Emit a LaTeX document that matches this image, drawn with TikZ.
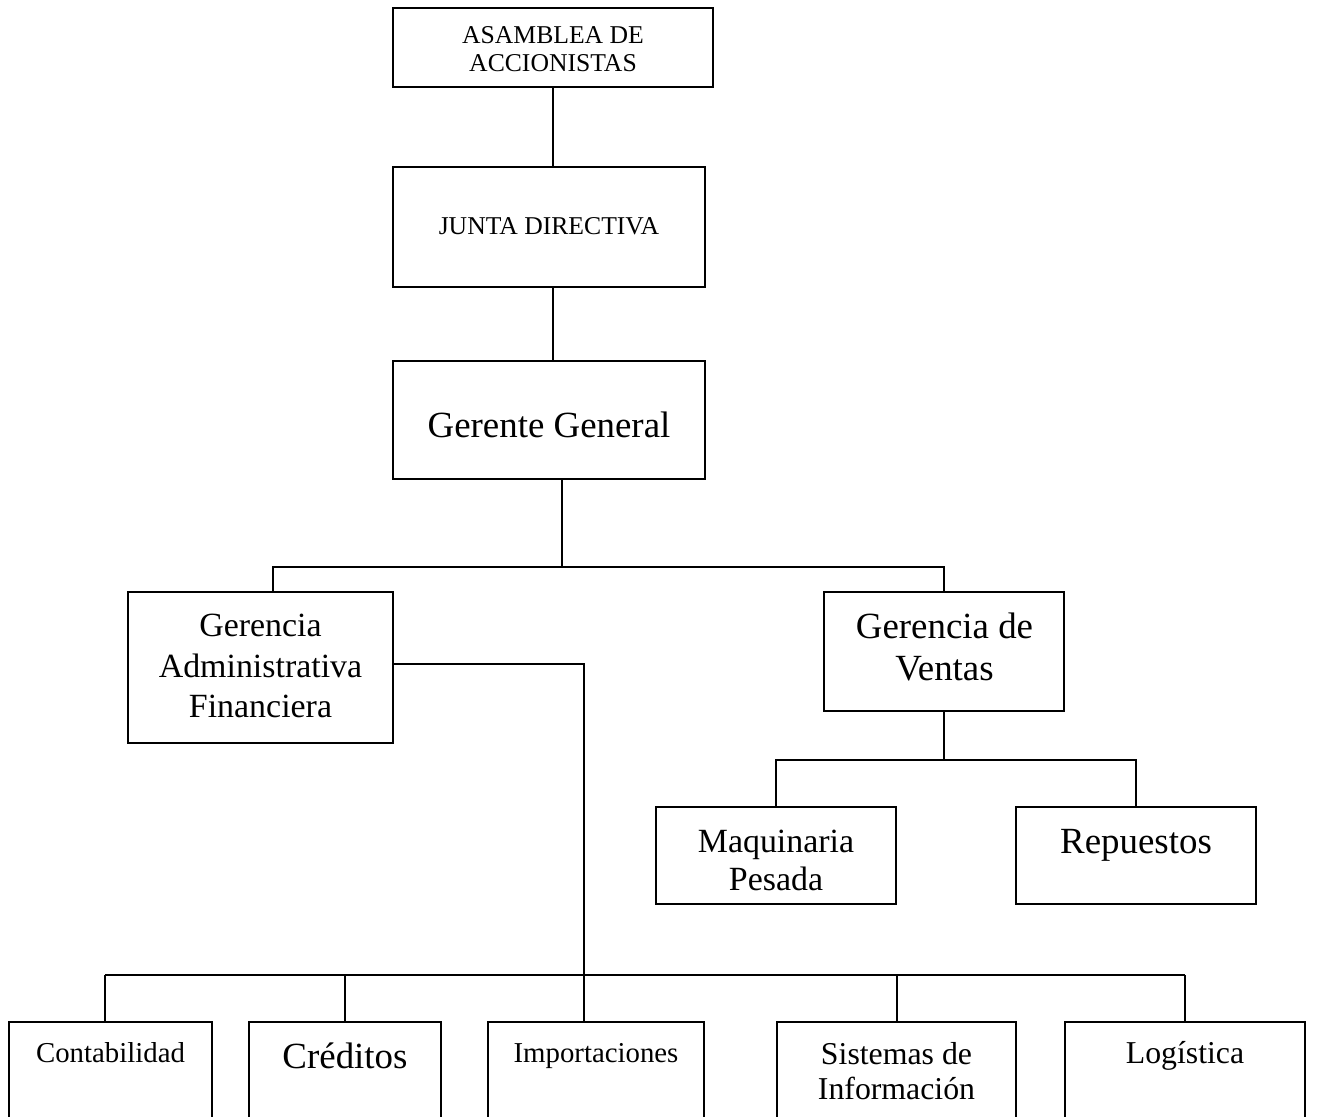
\documentclass[tikz,border=0pt]{standalone}
\usepackage{fontspec}
\setmainfont{Liberation Serif}
\usetikzlibrary{fit}
\tikzset{
  boxst/.style={draw=black, line width=1.1pt, inner sep=0pt},
  conn/.style={draw=black, line width=1.1pt},
  lbl/.style={inner sep=0pt, align=center},
  fA/.style={font=\fontsize{14.6}{15.6}\selectfont},
  fB/.style={font=\fontsize{16.4}{18}\selectfont},
  fC/.style={font=\fontsize{18.1}{19.9}\selectfont},
  fD/.style={font=\fontsize{19.3}{23}\selectfont},
  fE/.style={font=\fontsize{21}{23.8}\selectfont},
}
\begin{document}
\begin{tikzpicture}[x=0.02cm, y=-0.02cm]
\useasboundingbox (0,0) rectangle (1335,1116);
\clip (0,0) rectangle (1335,1116);
% boxes
\node[boxst, fit={(393,8) (713,87)}] (asam) {};
\node[boxst, fit={(393,167) (705,287)}] (junta) {};
\node[boxst, fit={(393,361) (705,479)}] (ger) {};
\node[boxst, fit={(128,592) (393,743)}] (adm) {};
\node[boxst, fit={(824,592) (1064,711)}] (vent) {};
\node[boxst, fit={(656,807) (896,904)}] (maq) {};
\node[boxst, fit={(1016,807) (1256,904)}] (rep) {};
\node[boxst, fit={(9,1022) (212,1150)}] (cont) {};
\node[boxst, fit={(249,1022) (441,1150)}] (cred) {};
\node[boxst, fit={(488,1022) (704,1150)}] (imp) {};
\node[boxst, fit={(777,1022) (1016,1150)}] (sis) {};
\node[boxst, fit={(1065,1022) (1305,1150)}] (log) {};
% texts
\node[lbl, fA] (asamT) at (553,49) {ASAMBLEA DE\\ACCIONISTAS};
\node[lbl, fA, anchor=base] (juntaT) at (549,234) {JUNTA DIRECTIVA};
\node[lbl, fE, anchor=base] (gerT) at (549,437) {Gerente General};
\node[lbl, fD] (admT) at (260.5,666) {Gerencia\\Administrativa\\Financiera};
\node[lbl, font=\fontsize{21}{24}\selectfont] (ventT) at (944.5,647) {Gerencia de\\Ventas};
\node[lbl, font=\fontsize{19.3}{21.6}\selectfont] (maqT) at (776,860) {Maquinaria\\Pesada};
\node[lbl, fE, anchor=base] (repT) at (1136,853) {Repuestos};
\node[lbl, fB, anchor=base] (contT) at (110.5,1062) {Contabilidad};
\node[lbl, fE, anchor=base] (credT) at (345,1068) {Créditos};
\node[lbl, fB, anchor=base] (impT) at (596,1062) {Importaciones};
\node[lbl, fC] (sisT) at (896.5,1071) {Sistemas de\\Información};
\node[lbl, fC, anchor=base] (logT) at (1185,1063) {Logística};
% coordinates
\coordinate (c1) at (553,0);
\coordinate (b1) at (562,567);
\coordinate (b1l) at (273,567);
\coordinate (b2) at (944,760);
\coordinate (b3) at (584,975);
\coordinate (d1) at (105,975);
\coordinate (d2) at (345,975);
\coordinate (d4) at (897,975);
\coordinate (d5) at (1185,975);
% connectors
\draw[conn] (asam.south -| c1) -- (junta.north -| c1);
\draw[conn] (junta.south -| c1) -- (ger.north -| c1);
\draw[conn] (ger.south -| b1) -- (b1);
\draw[conn] (adm.north -| b1l) |- (vent.north |- b1) -- (vent.north);
\draw[conn] (vent.south) -- (vent.south |- b2);
\draw[conn] (maq.north) |- (rep.north |- b2) -- (rep.north);
\draw[conn] (adm.east |- 0,664) -| (b3) -- (imp.north -| b3);
\draw[conn] (d1) -- (d5);
\draw[conn] (d1) -- (cont.north -| d1);
\draw[conn] (d2) -- (cred.north -| d2);
\draw[conn] (d4) -- (sis.north -| d4);
\draw[conn] (d5) -- (log.north -| d5);
\end{tikzpicture}
\end{document}
